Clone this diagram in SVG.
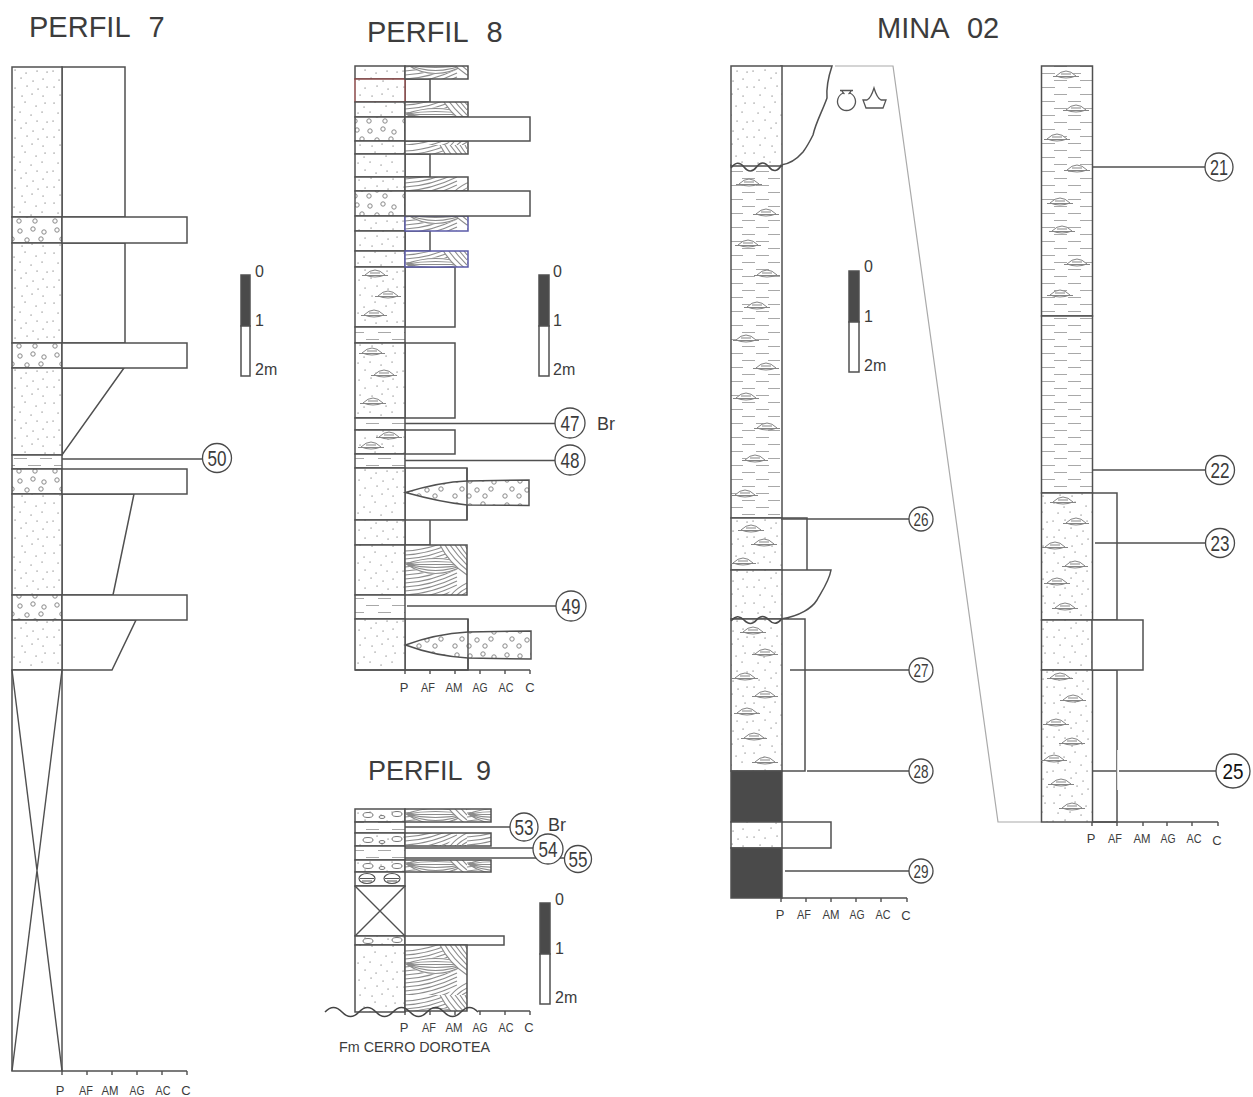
<svg xmlns="http://www.w3.org/2000/svg" xmlns:xlink="http://www.w3.org/1999/xlink" width="1253" height="1097" viewBox="0 0 1253 1097">
<style>
text{font-family:"Liberation Sans",Arial,sans-serif;fill:#3c3c3c}
.t{font-size:29px;word-spacing:11px}
.a{font-size:13px;text-anchor:middle}
.s{font-size:16px}
.n{font-size:22px;text-anchor:middle}
.m{font-size:18px;text-anchor:middle}
.l{fill:none;stroke:#505050;stroke-width:1.4}
.b,.c{stroke:#505050;stroke-width:1.5;fill:#fff}
.sand{fill:url(#sand)}.grav{fill:url(#grav)}.mud{fill:url(#mud)}.xb{fill:url(#xb)}.dark{fill:#4a4a4a}
.cg{stroke:#4a4a4a;stroke-width:1.3;fill:#fff}
</style>
<defs>
<pattern id="sand" patternUnits="userSpaceOnUse" width="50" height="50"><rect width="50" height="50" fill="#fff"/><path d="M4 3h.1M14 7h.1M25 2h.1M36 6h.1M45 3h.1M8 13h.1M20 12h.1M31 15h.1M42 12h.1M3 21h.1M15 20h.1M26 23h.1M37 21h.1M47 22h.1M9 30h.1M21 28h.1M33 31h.1M43 29h.1M4 37h.1M15 38h.1M27 36h.1M38 39h.1M47 37h.1M10 45h.1M22 46h.1M32 44h.1M43 46h.1" fill="none" stroke="#555" stroke-width="1.2" stroke-linecap="round"/></pattern>
<pattern id="grav" patternUnits="userSpaceOnUse" width="50" height="25"><rect width="50" height="25" fill="#fff"/><g fill="none" stroke="#888" stroke-width="1"><circle cx="7" cy="5" r="2.2"/><circle cx="20" cy="6" r="2.2"/><circle cx="33" cy="4" r="2.2"/><circle cx="44" cy="7" r="2.2"/><circle cx="12" cy="14" r="2.2"/><circle cx="27" cy="15" r="2.2"/><circle cx="41" cy="14" r="2.2"/><circle cx="5" cy="21" r="2.2"/><circle cx="19" cy="21" r="2.2"/><circle cx="35" cy="21" r="2.2"/></g></pattern>
<pattern id="mud" patternUnits="userSpaceOnUse" width="52" height="14"><rect width="52" height="14" fill="#fff"/><path d="M2 3.500h13M28 3.500h13M14 10.500h13M40 10.500h12" fill="none" stroke="#a8a8a8" stroke-width="1.200"/></pattern>
<pattern id="xb" patternUnits="userSpaceOnUse" x="405" y="545" width="62" height="50"><rect width="62" height="50" fill="#fff"/>
<path d="M0 6Q25 5 52 -8M0 10Q25 9 52 -4M0 14Q25 13 52 0M0 18Q25 17 52 4M0 22Q25 21 52 8M0 26Q25 25 52 12M0 30Q25 29 52 16M0 34Q25 33 52 20M0 38Q25 37 52 24M0 42Q25 41 52 28M0 46Q25 45 52 32M0 50Q25 49 52 36M0 54Q25 53 52 40M0 58Q25 57 52 44M0 62Q25 61 52 48" fill="none" stroke="#8c8c8c" stroke-width="1.100"/>
<path d="M42 50Q48 42 62 34V50Z" fill="#fff"/><path d="M46 50Q52 43 62 38M52 50Q56 46 62 43M57 50L62 47" fill="none" stroke="#8c8c8c" stroke-width="1.100"/>
<path d="M1 19Q30 6 61 19Q30 40 1 19Z" fill="#fff"/><path d="M1 19Q30 8 61 19M1 19Q30 14 61 19M1 19Q30 20 61 19M1 19Q30 26 61 19M1 19Q30 32 61 19M1 19Q30 38 61 19" fill="none" stroke="#8c8c8c" stroke-width="1.100"/>
<path d="M35 0Q44 18 62 30V0Z" fill="#fff"/><path d="M35 0Q44 18 62 30M40 0Q48 14 62 25M45 0Q52 10 62 20M50 0Q55 7 62 15M55 0Q58 5 62 10M60 0L62 4" fill="none" stroke="#8c8c8c" stroke-width="1.100"/></pattern>
<g id="lens"><path d="M-10 0Q-5 -5 0 -5Q5 -5 10 0Q0 4 -10 0Z" fill="#fff" stroke="#858585" stroke-width="1"/><path d="M-13 .5H13M-5 -2H5" fill="none" stroke="#858585" stroke-width="1"/></g>
</defs>
<rect width="1253" height="1097" fill="#fff"/>

<text class="t" x="29" y="37">PERFIL 7</text>
<text class="t" x="367" y="42">PERFIL 8</text>
<text class="t" x="368" y="780" style="font-size:27px;word-spacing:7px">PERFIL 9</text>
<text class="t" x="877" y="38">MINA 02</text>

<g id="perfil-7">
<path class="b" d="M62 67H125V217H62ZM62 243H125V343H62ZM62 368H124L62 455ZM62 494H134L113 595H62ZM62 620H136L112 670H62Z"/>
<rect class="c sand" x="12" y="67" width="50" height="150"/>
<rect class="c grav" x="12" y="217" width="50" height="26"/>
<rect class="c sand" x="12" y="243" width="50" height="100"/>
<rect class="c grav" x="12" y="343" width="50" height="25"/>
<rect class="c sand" x="12" y="368" width="50" height="87"/>
<rect class="c mud" x="12" y="455" width="50" height="14"/>
<rect class="c grav" x="12" y="469" width="50" height="25"/>
<rect class="c sand" x="12" y="494" width="50" height="101"/>
<rect class="c grav" x="12" y="595" width="50" height="25"/>
<rect class="c sand" x="12" y="620" width="50" height="50"/>
<rect class="c" x="12" y="670" width="50" height="401"/>
<path class="l" d="M12 670L62 1071M62 670L12 1071"/>
<rect class="b" x="62" y="217" width="125" height="26"/>
<rect class="b" x="62" y="343" width="125" height="25"/>
<rect class="b" x="62" y="469" width="125" height="25"/>
<rect class="b" x="62" y="595" width="125" height="25"/>
<path class="l" d="M62 1071H187M62 1071v4M87 1071v4M112 1071v4M137 1071v4M162 1071v4M187 1071v4"/>
<text class="a" x="60" y="1095">P</text><text class="a" x="86" y="1095" textLength="14" lengthAdjust="spacingAndGlyphs">AF</text><text class="a" x="110" y="1095" textLength="17" lengthAdjust="spacingAndGlyphs">AM</text><text class="a" x="137" y="1095" textLength="15" lengthAdjust="spacingAndGlyphs">AG</text><text class="a" x="163" y="1095" textLength="15" lengthAdjust="spacingAndGlyphs">AC</text><text class="a" x="186" y="1095">C</text>
</g>
<g id="escala-7">
<rect class="b" x="241" y="275" width="9" height="51" style="fill:#4a4a4a"/><rect class="b" x="241" y="326" width="9" height="50"/>
<text class="s" x="255" y="277">0</text><text class="s" x="255" y="326">1</text><text class="s" x="255" y="375">2m</text>
</g>

<g id="perfil-8">
<path class="b" d="M405 79H430V102H405ZM405 154H430V177H405ZM405 231H430V251H405ZM405 267H455V327H405ZM405 343H455V418H405ZM405 430H455V454H405ZM405 468H467V520H405ZM405 520H430V545H405ZM405 619H468V670H405Z"/>
<rect class="c sand" x="355" y="66" width="50" height="13"/>
<rect class="c sand" x="355" y="79" width="50" height="23" style="stroke:#8a4a4a"/>
<rect class="c sand" x="355" y="102" width="50" height="15"/>
<rect class="c grav" x="355" y="117" width="50" height="24"/>
<rect class="c sand" x="355" y="141" width="50" height="13"/>
<rect class="c sand" x="355" y="154" width="50" height="23"/>
<rect class="c sand" x="355" y="177" width="50" height="14"/>
<rect class="c grav" x="355" y="191" width="50" height="25"/>
<rect class="c sand" x="355" y="216" width="50" height="15"/>
<rect class="c sand" x="355" y="231" width="50" height="20"/>
<rect class="c sand" x="355" y="251" width="50" height="16"/>
<rect class="c sand" x="355" y="267" width="50" height="60"/>
<rect class="c mud" x="355" y="327" width="50" height="16"/>
<rect class="c sand" x="355" y="343" width="50" height="75"/>
<rect class="c mud" x="355" y="418" width="50" height="12"/>
<rect class="c sand" x="355" y="430" width="50" height="24"/>
<rect class="c mud" x="355" y="454" width="50" height="14"/>
<rect class="c sand" x="355" y="468" width="50" height="52"/>
<rect class="c sand" x="355" y="520" width="50" height="25"/>
<rect class="c sand" x="355" y="545" width="50" height="50"/>
<rect class="c mud" x="355" y="595" width="50" height="24"/>
<rect class="c sand" x="355" y="619" width="50" height="51"/>
<rect class="b xb" x="405" y="66" width="63" height="13"/>
<rect class="b xb" x="405" y="102" width="63" height="15"/>
<rect class="b xb" x="405" y="141" width="63" height="13"/>
<rect class="b xb" x="405" y="177" width="63" height="14"/>
<rect class="b xb" x="405" y="216" width="63" height="15" style="stroke:#5a5aa8"/>
<rect class="b xb" x="405" y="251" width="63" height="16" style="stroke:#5a5aa8"/>
<rect class="b xb" x="405" y="545" width="62" height="50"/>
<rect class="b" x="405" y="117" width="125" height="24"/>
<rect class="b" x="405" y="191" width="125" height="25"/>
<path class="b grav" d="M405.500 492.500Q440 482 467 481L529 480V505.500L467 505Q440 502 405.500 492.500Z"/>
<path class="b grav" d="M405.500 645Q435 634 468 632L531 631V659L468 658Q435 656 405.500 645Z"/>
<path class="l" d="M467 468V520M468 619V670"/>
<use xlink:href="#lens" href="#lens" x="375" y="275"/><use xlink:href="#lens" href="#lens" x="388" y="296"/><use xlink:href="#lens" href="#lens" x="374" y="315"/><use xlink:href="#lens" href="#lens" x="372" y="353"/><use xlink:href="#lens" href="#lens" x="384" y="375"/><use xlink:href="#lens" href="#lens" x="373" y="403"/><use xlink:href="#lens" href="#lens" x="389" y="437"/><use xlink:href="#lens" href="#lens" x="371" y="447"/>
<path class="l" d="M355 670H530M405 670v4M430 670v4M455 670v4M480 670v4M505 670v4M530 670v4"/>
<text class="a" x="404" y="692">P</text><text class="a" x="428" y="692" textLength="14" lengthAdjust="spacingAndGlyphs">AF</text><text class="a" x="454" y="692" textLength="17" lengthAdjust="spacingAndGlyphs">AM</text><text class="a" x="480" y="692" textLength="15" lengthAdjust="spacingAndGlyphs">AG</text><text class="a" x="506" y="692" textLength="15" lengthAdjust="spacingAndGlyphs">AC</text><text class="a" x="530" y="692">C</text>
</g>
<g id="escala-8">
<rect class="b" x="539" y="275" width="10" height="51" style="fill:#4a4a4a"/><rect class="b" x="539" y="326" width="10" height="50"/>
<text class="s" x="553" y="277">0</text><text class="s" x="553" y="326">1</text><text class="s" x="553" y="375">2m</text>
</g>
<text class="s" x="597" y="430" style="font-size:18px">Br</text>

<g id="perfil-9">
<rect class="c sand" x="355" y="809" width="50" height="13"/>
<rect class="c mud" x="355" y="822" width="50" height="11"/>
<rect class="c sand" x="355" y="833" width="50" height="13"/>
<rect class="c mud" x="355" y="846" width="50" height="14"/>
<rect class="c sand" x="355" y="860" width="50" height="12"/>
<rect class="c" x="355" y="872" width="50" height="14"/>
<rect class="c" x="355" y="886" width="50" height="50"/>
<path class="l" d="M355 886L405 936M405 886L355 936"/>
<rect class="c sand" x="355" y="936" width="50" height="9"/>
<path class="c sand" d="M355 945H405V1012H355Z"/>
<g fill="#fff" stroke="#777" stroke-width="1"><ellipse cx="368" cy="815" rx="5" ry="2.500"/><ellipse cx="397" cy="814" rx="5" ry="2.500"/><ellipse cx="382" cy="817" rx="3" ry="1.500"/><ellipse cx="368" cy="840" rx="5" ry="2.500"/><ellipse cx="397" cy="839" rx="5" ry="2.500"/><ellipse cx="382" cy="842" rx="3" ry="1.500"/><ellipse cx="368" cy="866" rx="5" ry="2.500"/><ellipse cx="397" cy="866" rx="5" ry="2.500"/><ellipse cx="382" cy="868" rx="3" ry="1.500"/><ellipse cx="368" cy="941" rx="5" ry="2.500"/><ellipse cx="397" cy="940" rx="5" ry="2.500"/></g>
<g fill="#fff" stroke="#555" stroke-width="1.200"><ellipse cx="367" cy="878.500" rx="8" ry="5"/><ellipse cx="392" cy="878.500" rx="8" ry="5"/><path d="M360 878.500H374M362 881H372M385 878.500H399M387 881H397" fill="none"/></g>
<rect class="b xb" x="405" y="809" width="86" height="13"/>
<rect class="b xb" x="405" y="833" width="86" height="13"/>
<rect class="b xb" x="405" y="860" width="86" height="12"/>
<rect class="b" x="405" y="936" width="99" height="9"/>
<path class="b xb" d="M405 945H467V1011H405Z"/>
<path class="l" d="M478 1011H530M405 1011v4M430 1011v4M455 1011v4M480 1011v4M505 1011v4M530 1011v4"/>
<path d="M325 1012q8.500 -9 17 0t17 0t17 0t17 0t17 0t17 0t17 0t17 0t17 0" fill="none" stroke="#444" stroke-width="1.500"/>
<text class="a" x="404" y="1032">P</text><text class="a" x="429" y="1032" textLength="14" lengthAdjust="spacingAndGlyphs">AF</text><text class="a" x="454" y="1032" textLength="17" lengthAdjust="spacingAndGlyphs">AM</text><text class="a" x="480" y="1032" textLength="15" lengthAdjust="spacingAndGlyphs">AG</text><text class="a" x="506" y="1032" textLength="15" lengthAdjust="spacingAndGlyphs">AC</text><text class="a" x="529" y="1032">C</text>
<text x="339" y="1052" font-size="14.500" textLength="151" lengthAdjust="spacingAndGlyphs">Fm CERRO DOROTEA</text>
</g>
<g id="escala-9">
<rect class="b" x="540" y="903" width="10" height="51" style="fill:#4a4a4a"/><rect class="b" x="540" y="954" width="10" height="50"/>
<text class="s" x="555" y="905">0</text><text class="s" x="555" y="954">1</text><text class="s" x="555" y="1003">2m</text>
</g>
<text class="s" x="548" y="831" style="font-size:18px">Br</text>

<g id="mina-02">
<path class="b" d="M781 66H832C829 75 826 85 827 98C822 112 816 122 813 135C808 145 806 148 803 152C796 160 790 164 781 165Z"/>
<path class="b" d="M781 518H807V570H781ZM781 570H831C829 582 820 594 817 600C812 608 800 616 781 619ZM781 619H805V771H781ZM781 822H831V848H781Z"/>
<rect class="c mud" x="731" y="165" width="51" height="353"/>
<rect class="c sand" x="731" y="66" width="51" height="100"/>
<rect class="c sand" x="731" y="518" width="51" height="52"/>
<rect class="c sand" x="731" y="570" width="51" height="49"/>
<rect class="c sand" x="731" y="619" width="51" height="152"/>
<rect class="c dark" x="731" y="771" width="51" height="51"/>
<rect class="c sand" x="731" y="822" width="51" height="26"/>
<rect class="c dark" x="731" y="848" width="51" height="50"/>
<path d="M731 168q6.500 -9 13 -1t12.500 0t12.500 0t12.500 -2M731 621q6.500 -8 13 -1t12.500 0t12.500 0t12.500 -1" fill="none" stroke="#4a4a4a" stroke-width="1.600"/>
<use xlink:href="#lens" href="#lens" x="749" y="184"/><use xlink:href="#lens" href="#lens" x="766" y="214"/><use xlink:href="#lens" href="#lens" x="748" y="245"/><use xlink:href="#lens" href="#lens" x="767" y="275"/><use xlink:href="#lens" href="#lens" x="757" y="307"/><use xlink:href="#lens" href="#lens" x="746" y="340"/><use xlink:href="#lens" href="#lens" x="766" y="368"/><use xlink:href="#lens" href="#lens" x="746" y="398"/><use xlink:href="#lens" href="#lens" x="767" y="428"/><use xlink:href="#lens" href="#lens" x="755" y="460"/><use xlink:href="#lens" href="#lens" x="745" y="495"/>
<use xlink:href="#lens" href="#lens" x="751" y="530"/><use xlink:href="#lens" href="#lens" x="764" y="544"/><use xlink:href="#lens" href="#lens" x="743" y="563"/><use xlink:href="#lens" href="#lens" x="753" y="632"/><use xlink:href="#lens" href="#lens" x="765" y="654"/><use xlink:href="#lens" href="#lens" x="745" y="678"/><use xlink:href="#lens" href="#lens" x="765" y="696"/><use xlink:href="#lens" href="#lens" x="747" y="713"/><use xlink:href="#lens" href="#lens" x="754" y="738"/><use xlink:href="#lens" href="#lens" x="765" y="762"/>
<path class="l" d="M781 898H907M781 898v4M806 898v4M831 898v4M856 898v4M881 898v4M907 898v4"/>
<text class="a" x="780" y="919">P</text><text class="a" x="804" y="919" textLength="14" lengthAdjust="spacingAndGlyphs">AF</text><text class="a" x="831" y="919" textLength="17" lengthAdjust="spacingAndGlyphs">AM</text><text class="a" x="857" y="919" textLength="15" lengthAdjust="spacingAndGlyphs">AG</text><text class="a" x="883" y="919" textLength="15" lengthAdjust="spacingAndGlyphs">AC</text><text class="a" x="906" y="920">C</text>
<g fill="none" stroke="#555" stroke-width="1.300"><path d="M840 90.500H853M842 91Q843 93 844.500 94M851 91Q850 93 848.500 94"/><path d="M843.500 93A9 9 0 1 0 849.500 93"/><path d="M863 100H867Q871 98 874 88Q877 98 881 100H886L883 108H866Z"/></g>
<path d="M835 66H893L998 822H1041" fill="none" stroke="#aaa" stroke-width="1.200"/>
</g>
<g id="escala-mina">
<rect class="b" x="849" y="271" width="10" height="51" style="fill:#4a4a4a"/><rect class="b" x="849" y="322" width="10" height="50"/>
<text class="s" x="864" y="272">0</text><text class="s" x="864" y="322">1</text><text class="s" x="864" y="371">2m</text>
</g>

<g id="mina-02-b">
<path class="b" d="M1092 493H1117V620H1092ZM1092 670H1117V822H1092Z"/>
<rect class="c mud" x="1041.500" y="66" width="51" height="250"/>
<rect class="c mud" x="1041.500" y="316" width="51" height="177"/>
<rect class="c sand" x="1041.500" y="493" width="51" height="127"/>
<rect class="c sand" x="1041.500" y="620" width="51" height="50"/>
<rect class="c sand" x="1041.500" y="670" width="51" height="152"/>
<rect class="b" x="1092" y="620" width="51" height="50"/>
<use xlink:href="#lens" href="#lens" x="1066" y="76"/><use xlink:href="#lens" href="#lens" x="1076" y="110"/><use xlink:href="#lens" href="#lens" x="1057" y="139"/><use xlink:href="#lens" href="#lens" x="1077" y="170"/><use xlink:href="#lens" href="#lens" x="1060" y="203"/><use xlink:href="#lens" href="#lens" x="1062" y="231"/><use xlink:href="#lens" href="#lens" x="1077" y="264"/><use xlink:href="#lens" href="#lens" x="1060" y="295"/>
<use xlink:href="#lens" href="#lens" x="1063" y="502"/><use xlink:href="#lens" href="#lens" x="1076" y="523"/><use xlink:href="#lens" href="#lens" x="1055" y="547"/><use xlink:href="#lens" href="#lens" x="1075" y="566"/><use xlink:href="#lens" href="#lens" x="1057" y="583"/><use xlink:href="#lens" href="#lens" x="1065" y="608"/><use xlink:href="#lens" href="#lens" x="1060" y="678"/><use xlink:href="#lens" href="#lens" x="1073" y="700"/><use xlink:href="#lens" href="#lens" x="1056" y="724"/><use xlink:href="#lens" href="#lens" x="1072" y="743"/><use xlink:href="#lens" href="#lens" x="1054" y="760"/><use xlink:href="#lens" href="#lens" x="1061" y="784"/><use xlink:href="#lens" href="#lens" x="1072" y="808"/>
<path class="l" d="M1092 822H1218M1092 822v4M1117 822v4M1143 822v4M1167 822v4M1192 822v4M1218 822v4"/>
<path d="M1118 750V790" stroke="#fff" stroke-width="1.500"/>
<text class="a" x="1091" y="843">P</text><text class="a" x="1115" y="843" textLength="14" lengthAdjust="spacingAndGlyphs">AF</text><text class="a" x="1142" y="843" textLength="17" lengthAdjust="spacingAndGlyphs">AM</text><text class="a" x="1168" y="843" textLength="15" lengthAdjust="spacingAndGlyphs">AG</text><text class="a" x="1194" y="843" textLength="15" lengthAdjust="spacingAndGlyphs">AC</text><text class="a" x="1217" y="845">C</text>
</g>

<g id="connectors">
<path class="l" d="M62 459H203M405 423.500H555M405 460.500H555M407 606H556M405 827H510M405 848H533M405 858H565M781 519H909M790 670H909M807 771H909M785 871H909M1092 167H1205M1092 470H1205M1095 543H1205M1092 771H1116M1119 771H1216"/>
</g>

<g id="n50"><circle class="cg" cx="217" cy="458" r="14.500"/><text class="n" x="217" y="466" textLength="19" lengthAdjust="spacingAndGlyphs">50</text></g>
<g id="n47"><circle class="cg" cx="570" cy="423" r="15"/><text class="n" x="570" y="431" textLength="19" lengthAdjust="spacingAndGlyphs">47</text></g>
<g id="n48"><circle class="cg" cx="570" cy="460" r="15"/><text class="n" x="570" y="468" textLength="19" lengthAdjust="spacingAndGlyphs">48</text></g>
<g id="n49"><circle class="cg" cx="571" cy="606" r="15"/><text class="n" x="571" y="614" textLength="19" lengthAdjust="spacingAndGlyphs">49</text></g>
<g id="n53"><circle class="cg" cx="524" cy="827" r="14"/><text class="n" x="524" y="835" textLength="19" lengthAdjust="spacingAndGlyphs">53</text></g>
<g id="n55"><circle class="cg" cx="578" cy="859" r="13.500"/><text class="n" x="578" y="867" textLength="19" lengthAdjust="spacingAndGlyphs">55</text></g>
<g id="n54"><circle class="cg" cx="548" cy="849" r="15"/><text class="n" x="548" y="857" textLength="19" lengthAdjust="spacingAndGlyphs">54</text></g>
<g id="n26"><circle class="cg" cx="921" cy="519" r="12"/><text class="m" x="921" y="525.500" textLength="15" lengthAdjust="spacingAndGlyphs">26</text></g>
<g id="n27"><circle class="cg" cx="921" cy="670" r="12"/><text class="m" x="921" y="676.500" textLength="15" lengthAdjust="spacingAndGlyphs">27</text></g>
<g id="n28"><circle class="cg" cx="921" cy="771" r="12"/><text class="m" x="921" y="777.500" textLength="15" lengthAdjust="spacingAndGlyphs">28</text></g>
<g id="n29"><circle class="cg" cx="921" cy="871" r="12"/><text class="m" x="921" y="877.500" textLength="15" lengthAdjust="spacingAndGlyphs">29</text></g>
<g id="n21"><circle class="cg" cx="1219" cy="167" r="14"/><text class="n" x="1219" y="175" textLength="18" lengthAdjust="spacingAndGlyphs">21</text></g>
<g id="n22"><circle class="cg" cx="1220" cy="470" r="14.500"/><text class="n" x="1220" y="478" textLength="19" lengthAdjust="spacingAndGlyphs">22</text></g>
<g id="n23"><circle class="cg" cx="1220" cy="543" r="14.500"/><text class="n" x="1220" y="551" textLength="19" lengthAdjust="spacingAndGlyphs">23</text></g>
<g id="n25"><circle class="cg" cx="1233" cy="771" r="17"/><text class="n" x="1233" y="779" style="fill:#111" textLength="21" lengthAdjust="spacingAndGlyphs">25</text></g>
</svg>
